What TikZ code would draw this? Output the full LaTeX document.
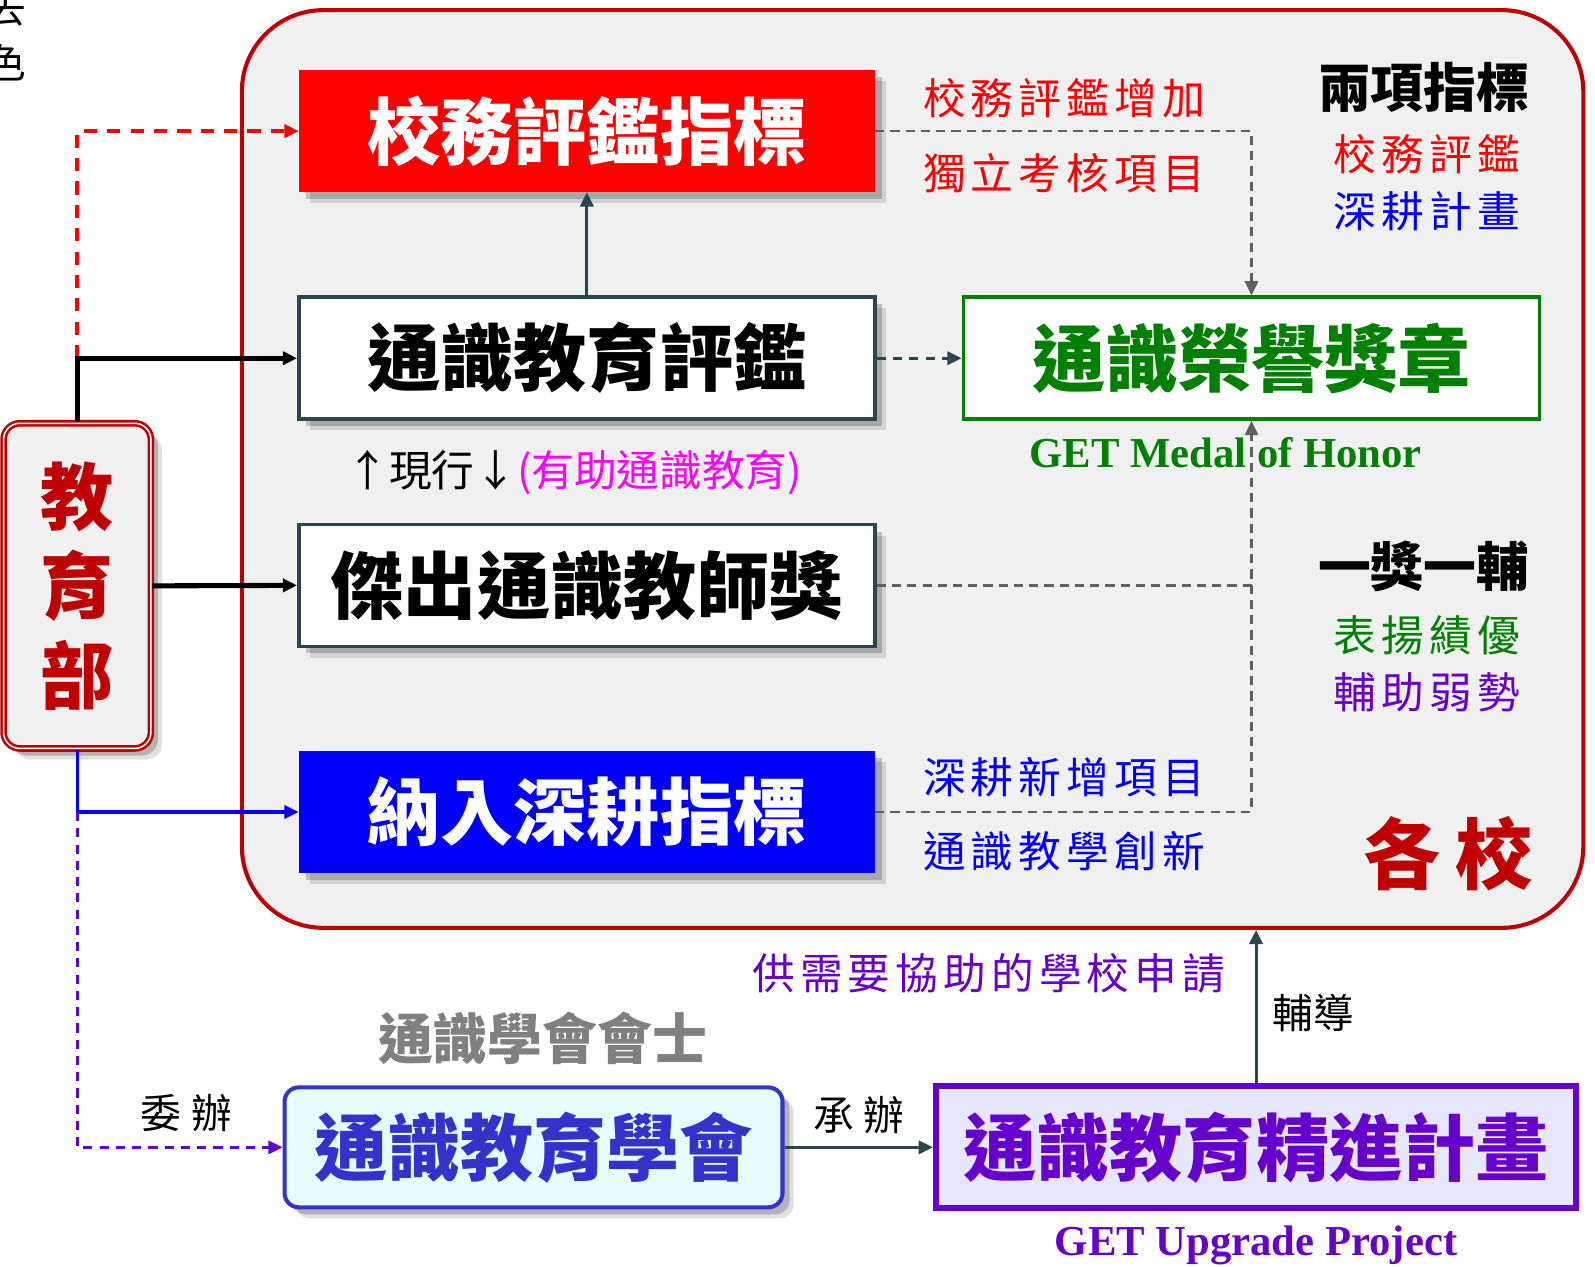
\documentclass[tikz,border=0pt]{standalone}
\usepackage{fontspec}
\setmainfont{Liberation Serif}
\newfontfamily\cjk{Noto Sans CJK TC}
\newfontfamily\cjkwide{Noto Sans CJK TC}[LetterSpace=12]
\usepackage{tikz}
\usetikzlibrary{shadows}
\usetikzlibrary{arrows.meta}
\usetikzlibrary{positioning}

\definecolor{darkred}{RGB}{192,0,0}
\definecolor{schoolbg}{RGB}{240,240,240}
\definecolor{slate}{RGB}{38,72,78}
\definecolor{medalgreen}{RGB}{0,128,0}
\definecolor{gepurple}{RGB}{102,0,204}
\definecolor{assocblue}{RGB}{51,51,204}
\definecolor{assocfill}{RGB}{230,255,255}
\definecolor{upfill}{RGB}{230,230,255}
\definecolor{dashgray}{RGB}{96,96,96}
\definecolor{pink}{RGB}{255,0,255}

\begin{document}
\begin{tikzpicture}[x=1pt,y=-1pt,
  title/.style={font=\cjk\bfseries\fontsize{72}{72}\selectfont, inner sep=0pt,
    minimum width=567pt, minimum height=120pt},
  shade/.style={drop shadow={shadow xshift=11pt,shadow yshift=-11pt,opacity=0.12,fill=black},
    drop shadow={shadow xshift=7pt,shadow yshift=-7pt,opacity=0.2,fill=black}},
  note/.style={font=\cjkwide\fontsize{42}{42}\selectfont, inner sep=0pt},
  head/.style={font=\cjk\bfseries\fontsize{52}{52}\selectfont, inner sep=0pt},
  eng/.style={font=\bfseries\fontsize{42}{42}\selectfont, inner sep=0pt},
  tip/.style={-{Triangle[length=14pt,width=13pt]}},
  graydash/.style={dashgray, line width=2.5pt, dash pattern=on 9pt off 6pt}]
  \useasboundingbox (0,0) rectangle (1569.5,1246.7);

  % stray text from the slide edge
  \node[note,font=\cjk\fontsize{40}{40}\selectfont] (edgea) at (6,8) {去};
  \node[note,font=\cjk\fontsize{40}{40}\selectfont] (edgeb) at (6,62) {色};
  \node[note,font=\cjk\fontsize{48}{48}\selectfont] (edgec) at (-12,272) {)};

  % schools
  \node[draw=darkred, line width=4pt, fill=schoolbg, rounded corners=80pt,
    minimum width=1320pt, minimum height=903pt] (school) at (898,461.5) {};

  \node[title, fill=red, text=white, shade] (evalidx) at (577.5,129) {校務評鑑指標};
  \node[title, fill=white, draw=slate, line width=3.5pt, shade] (geeval) at (577.5,352.5) {通識教育評鑑};
  \node[title, fill=white, draw=slate, line width=3.5pt, shade] (teacher) at (577.5,576) {傑出通識教師獎};
  \node[title, fill=blue, text=white, shade] (deep) at (577.5,799) {納入深耕指標};
  \node[title, fill=white, draw=medalgreen, line width=3.5pt, text=medalgreen] (medal) at (1231.5,352.5) {通識榮譽獎章};
  \node[eng, text=medalgreen] (medalen) at (1206,445) {GET Medal of Honor};

  \node[note, text=red] (addeval) at (1047,97) {校務評鑑增加};
  \node[note, text=red] (selfitem) at (1047,170) {獨立考核項目};
  \node[note, text=blue] (newitem) at (1047,765) {深耕新增項目};
  \node[note, text=blue] (innov) at (1047,838) {通識教學創新};
  \node[note, font=\cjk\fontsize{42}{42}\selectfont] (current) at (565,465) {↑現行↓\textcolor{pink}{(有助通識教育)}};

  \node[head] (twoidx) at (1401,86) {兩項指標};
  \node[note, text=red] (twoa) at (1404,152) {校務評鑑};
  \node[note, text=blue] (twob) at (1404,208) {深耕計畫};
  \node[head] (oneone) at (1401,557) {一獎一輔};
  \node[note, text=medalgreen] (onea) at (1404,625) {表揚績優};
  \node[note, text=gepurple] (oneb) at (1404,681) {輔助弱勢};
  \node[font=\cjk\bfseries\fontsize{76}{76}\selectfont, text=darkred, inner sep=0pt] (schooltag) at (1425,840) {各\hspace{14pt}校};

  % ministry
  \node[draw=darkred, line width=2.5pt, double=white, double distance=1.5pt, fill=schoolbg,
    rounded corners=16pt, minimum width=145pt, minimum height=320pt, shade, align=center,
    font=\cjk\bfseries\fontsize{72}{88}\selectfont, text=darkred] (moe) at (76,576.5) {教\\育\\部};

  % association and project
  \node[title, minimum width=490pt, minimum height=118pt, draw=assocblue, line width=4pt,
    fill=assocfill, rounded corners=14pt, text=assocblue, shade] (assoc) at (525,1129) {通識教育學會};
  \node[title, minimum width=630pt, minimum height=120pt, draw=gepurple, line width=6pt,
    fill=upfill, text=gepurple] (upgrade) at (1236,1129) {通識教育精進計畫};
  \node[eng, text=gepurple, below=14pt of upgrade] (upgradeen) {GET Upgrade Project};
  \node[head, font=\cjk\bfseries\fontsize{54}{54}\selectfont, text=gray] (fellow) at (534,1022) {通識學會會士};
  \node[note, text=gepurple] (apply) at (973,958) {供需要協助的學校申請};
  \node[note, font=\cjk\fontsize{40}{40}\selectfont] (guide) at (1292,997) {輔導};
  \node[note, font=\cjk\fontsize{40}{40}\selectfont] (commit) at (183,1095) {委\hspace{10pt}辦};
  \node[note, font=\cjk\fontsize{40}{40}\selectfont] (undertake) at (845,1097) {承\hspace{10pt}辦};

  % connectors
  \coordinate (split) at (moe.north |- geeval.west);
  \coordinate (fork) at (moe.south |- deep.west);
  \draw[red, line width=3.5pt, dash pattern=on 13pt off 10pt, tip] (split) |- (evalidx.west);
  \draw[black, line width=5pt, tip] (moe.north) |- (geeval.west);
  \draw[black, line width=5pt, tip] (moe.east) -- (teacher.west);
  \draw[blue, line width=3pt, tip] (moe.south) |- (deep.west);
  \draw[gepurple, line width=3pt, dash pattern=on 9pt off 7pt, tip] (fork) |- (assoc.west);
  \draw[slate, line width=3pt, tip] (geeval.north) -- (evalidx.south);
  \draw[slate, line width=3pt, dash pattern=on 9pt off 7pt, tip] (geeval.east) -- (medal.west);
  \draw[graydash, tip] (evalidx.east) -| (medal.north);
  \draw[graydash] (teacher.east) -- (teacher.east -| medal.south);
  \draw[graydash, tip] (deep.east) -| (medal.south);
  \draw[slate, line width=3pt, tip] (assoc.east) -- (upgrade.west);
  \draw[slate, line width=3pt, tip] (upgrade.north) -- (school.south -| upgrade.north);
\end{tikzpicture}
\end{document}
